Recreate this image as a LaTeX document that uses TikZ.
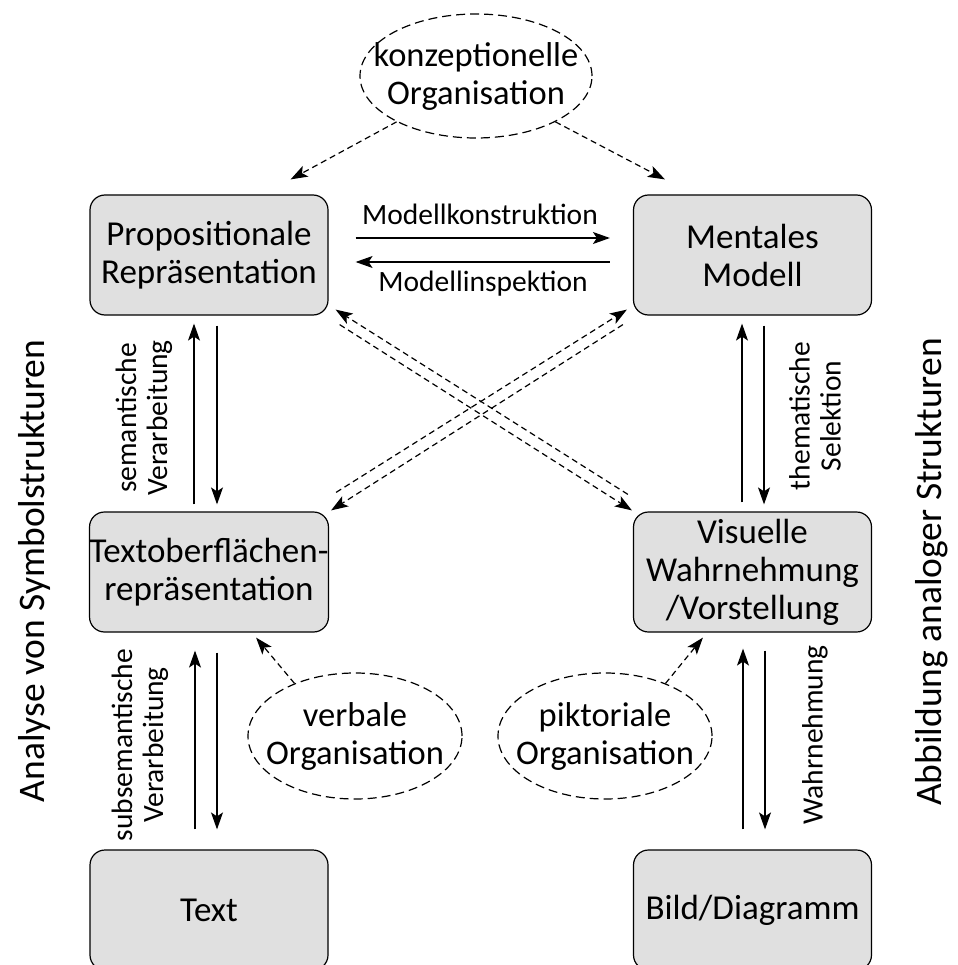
\documentclass[tikz,border=0pt]{standalone}
\usepackage{fontspec}
\setmainfont{Carlito}
\usetikzlibrary{shapes.geometric,arrows.meta,calc}
\tikzset{
  boxnode/.style={draw=black, line width=1.2pt, fill=black!12, rounded corners=15pt,
    minimum width=238pt, minimum height=120pt, align=center, inner sep=0pt,
    font=\fontsize{35}{38}\selectfont},
  orgnode/.style={draw=black, line width=1.2pt, dash pattern=on 9pt off 5pt, ellipse,
    align=center, inner xsep=-30pt, inner ysep=-8pt, font=\fontsize{34.5}{38}\selectfont},
  lbl/.style={font=\fontsize{29.5}{31}\selectfont, align=center, inner sep=0pt},
  sidelbl/.style={font=\fontsize{37.5}{42}\selectfont, inner sep=0pt, rotate=90},
  solidarrow/.style={line width=1.2pt, -{Stealth[length=17pt,width=12pt,inset=4pt]}},
  dasharrow/.style={line width=1.2pt, dash pattern=on 6pt off 4pt,
    -{Stealth[length=17pt,width=12pt,inset=4pt]}},
}
\begin{document}
\begin{tikzpicture}[x=1pt,y=-1pt]
\useasboundingbox (0,0) rectangle (957,965);
% boxes
\node[boxnode] (prop) at (209,255) {Propositionale\\Repräsentation};
\node[boxnode] (ment) at (752.5,255) {Mentales\\Modell};
\node[boxnode] (texto) at (209,572) {Textoberflächen-\\repräsentation};
\node[boxnode] (visu) at (752.5,572) {Visuelle\\Wahrnehmung\\/Vorstellung};
\node[boxnode] (text) at (209,910) {Text};
\node[boxnode] (bild) at (752.5,910) {Bild/Diagramm};
% ellipses
\node[orgnode, minimum width=232pt, minimum height=124pt] (konz) at (476,76) {konzeptionelle\\Organisation};
\node[orgnode, minimum width=214pt, minimum height=126pt] (verb) at (355,736) {verbale\\Organisation};
\node[orgnode, minimum width=214pt, minimum height=126pt] (pikt) at (605,736) {piktoriale\\Organisation};
% horizontal arrows
\draw[solidarrow] ([shift={(27,-17)}]prop.east) -- ([shift={(-23,-17)}]ment.west);
\draw[solidarrow] ([shift={(-23,7)}]ment.west) -- ([shift={(27,7)}]prop.east);
\node[lbl, anchor=base] (mk) at (480,225) {Modellkonstruktion};
\node[lbl, anchor=base] (mi) at (483,291) {Modellinspektion};
% vertical arrows left top
\draw[solidarrow] ([shift={(-15,-7)}]texto.north) -- ([shift={(-15,8)}]prop.south);
\draw[solidarrow] ([shift={(8,10)}]prop.south) -- ([shift={(8,-7)}]texto.north);
\node[lbl, rotate=90] (sem) at (144,418) {semantische\\Verarbeitung};
% vertical arrows right top
\draw[solidarrow] ([shift={(-10.5,-9)}]visu.north) -- ([shift={(-10.5,8)}]ment.south);
\draw[solidarrow] ([shift={(11.5,10)}]ment.south) -- ([shift={(11.5,-7)}]visu.north);
\node[lbl, rotate=90] (them) at (815,416) {thematische\\Selektion};
% vertical arrows left bottom
\draw[solidarrow] ([shift={(-14,-20)}]text.north) -- ([shift={(-14,18)}]texto.south);
\draw[solidarrow] ([shift={(8,20)}]texto.south) -- ([shift={(8,-20)}]text.north);
\node[lbl, rotate=90] (subsem) at (140,745) {subsemantische\\Verarbeitung};
% vertical arrows right bottom
\draw[solidarrow] ([shift={(-9.5,-20)}]bild.north) -- ([shift={(-9.5,16)}]visu.south);
\draw[solidarrow] ([shift={(12.5,18)}]visu.south) -- ([shift={(12.5,-20)}]bild.north);
\node[lbl, rotate=90] (wahr) at (815,735) {Wahrnehmung};
% crossing dashed arrows
\draw[dasharrow] ([shift={(-5,-17)}]visu.north west) -- ([shift={(7,-6)}]prop.south east);
\draw[dasharrow] ([shift={(11,9)}]prop.south east) -- ([shift={(-1,-1)}]visu.north west);
\draw[dasharrow] ([shift={(7,-19)}]texto.north east) -- ([shift={(-6,-6)}]ment.south west);
\draw[dasharrow] ([shift={(-10,9)}]ment.south west) -- ([shift={(2,-1)}]texto.north east);
% organisation arrows
\draw[dasharrow] (konz.210) -- ([shift={(-38,-15)}]prop.north east);
\draw[dasharrow] (konz.330) -- ([shift={(32,-15)}]ment.north west);
\draw[dasharrow] (verb.139) -- ([shift={(-73,5)}]texto.south east);
\draw[dasharrow] (pikt.41) -- ([shift={(70,5)}]visu.south west);
% side labels
\node[sidelbl] (lside) at (35,571) {Analyse von Symbolstrukturen};
\node[sidelbl] (rside) at (932,572) {Abbildung analoger Strukturen};
\end{tikzpicture}
\end{document}
